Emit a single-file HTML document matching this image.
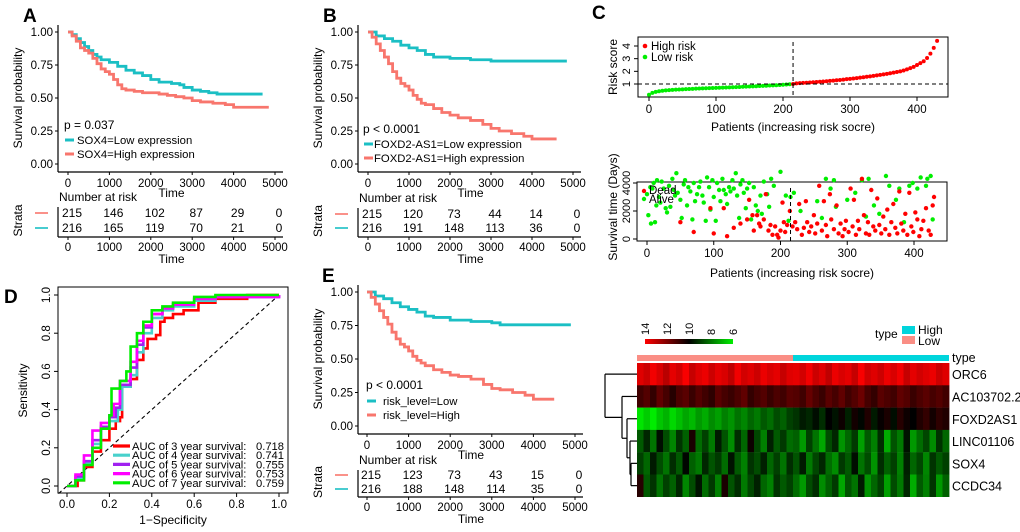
<!DOCTYPE html>
<html><head><meta charset="utf-8">
<style>
html,body{margin:0;padding:0;background:#fff;}
svg{display:block;font-family:"Liberation Sans",Arial,sans-serif;}
</style></head>
<body>
<svg id="fig" width="1020" height="532" viewBox="0 0 1020 532" xmlns="http://www.w3.org/2000/svg">
<g id="root"></g>
</svg>
<script>
// ---------- DATA ----------
const kmTicks = [0,1000,2000,3000,4000,5000];
const kmYTicks = [0,0.25,0.5,0.75,1.0];
const kmYLabels = ["0.00","0.25","0.50","0.75","1.00"];
// Panel A
const aLowT = [0,100,200,300,400,500,600,700,800,1000,1200,1400,1600,1800,2000,2200,2500,2700,2800,3000,3200,3400,3600,4000,4700];
const aLowS = [1,0.98,0.95,0.92,0.89,0.86,0.83,0.81,0.79,0.77,0.74,0.71,0.69,0.67,0.64,0.62,0.61,0.6,0.58,0.56,0.55,0.54,0.53,0.53,0.53];
const aHighT = [0,100,200,300,400,500,600,700,800,900,1000,1100,1200,1300,1400,1600,1800,2000,2200,2400,2600,2800,3000,3200,3500,3800,4000,4200,4850];
const aHighS = [1,0.97,0.93,0.88,0.86,0.84,0.80,0.76,0.72,0.70,0.68,0.64,0.60,0.57,0.56,0.55,0.54,0.54,0.53,0.52,0.51,0.50,0.48,0.47,0.46,0.45,0.43,0.43,0.43];
const aRiskHigh = [215,146,102,87,29,0];
const aRiskLow = [216,165,119,70,21,0];
// Panel B
const bLowT = [0,200,400,600,800,1000,1200,1400,1600,2000,2500,3000,3200,4850];
const bLowS = [1,0.97,0.95,0.93,0.9,0.88,0.86,0.83,0.81,0.8,0.79,0.78,0.78,0.78];
const bHighT = [0,100,200,300,400,500,600,700,800,900,1000,1100,1200,1300,1400,1600,1800,2000,2200,2500,2800,3000,3200,3500,3800,4000,4600];
const bHighS = [1,0.96,0.91,0.86,0.81,0.76,0.70,0.65,0.61,0.59,0.56,0.52,0.49,0.46,0.45,0.42,0.39,0.37,0.35,0.33,0.30,0.27,0.25,0.23,0.21,0.19,0.19];
const bRiskHigh = [215,120,73,44,14,0];
const bRiskLow = [216,191,148,113,36,0];
// Panel E
const eLowT = [0,200,400,600,800,1000,1200,1400,1600,2000,2500,3000,3200,4900];
const eLowS = [1,0.97,0.95,0.92,0.89,0.87,0.85,0.82,0.81,0.79,0.78,0.77,0.755,0.755];
const eHighT = [0,100,200,300,400,500,600,700,800,900,1000,1100,1200,1300,1400,1600,1800,2000,2200,2500,2800,3000,3200,3500,3800,4000,4500];
const eHighS = [1,0.96,0.91,0.86,0.81,0.76,0.70,0.65,0.61,0.59,0.56,0.52,0.49,0.47,0.45,0.42,0.40,0.38,0.37,0.35,0.31,0.28,0.27,0.25,0.23,0.2,0.2];
const eRiskHigh = [215,123,73,43,15,0];
const eRiskLow = [216,188,148,114,35,0];
// Panel D ROC
const rocTicks = [0,0.2,0.4,0.6,0.8,1.0];
const roc3x = [0,0.05,0.08,0.12,0.16,0.2,0.23,0.25,0.26,0.3,0.33,0.36,0.38,0.42,0.44,0.46,0.5,0.55,0.62,0.7,0.85,1];
const roc3y = [0,0.03,0.1,0.18,0.24,0.3,0.34,0.36,0.52,0.56,0.66,0.72,0.77,0.79,0.86,0.88,0.9,0.92,0.96,0.98,1,1];
const roc4x = [0,0.04,0.08,0.12,0.16,0.2,0.24,0.26,0.3,0.33,0.36,0.4,0.45,0.5,0.6,0.7,1];
const roc4y = [0,0.04,0.12,0.22,0.3,0.34,0.4,0.52,0.58,0.7,0.8,0.88,0.92,0.94,0.97,0.99,1];
const roc5x = [0,0.04,0.08,0.12,0.16,0.2,0.23,0.25,0.3,0.33,0.36,0.4,0.45,0.5,0.6,0.7,1];
const roc5y = [0,0.05,0.13,0.24,0.31,0.36,0.41,0.53,0.62,0.74,0.83,0.9,0.93,0.95,0.98,0.99,1];
const roc6x = [0,0.04,0.08,0.12,0.16,0.2,0.22,0.25,0.3,0.33,0.36,0.4,0.45,0.5,0.6,0.7,1];
const roc6y = [0,0.06,0.16,0.29,0.33,0.37,0.43,0.55,0.65,0.76,0.84,0.9,0.93,0.95,0.98,0.99,1];
const roc7x = [0,0.04,0.08,0.12,0.16,0.2,0.21,0.25,0.28,0.3,0.33,0.36,0.4,0.45,0.5,0.6,0.7,1];
const roc7y = [0,0.03,0.11,0.2,0.3,0.37,0.51,0.55,0.6,0.73,0.8,0.86,0.92,0.94,0.96,0.99,1,1];
const rocLabels = ["AUC of 3 year survival:","AUC of 4 year survival:","AUC of 5 year survival:","AUC of 6 year survival:","AUC of 7 year survival:"];
const rocAUC = ["0.718","0.741","0.755","0.753","0.759"];
// Panel C risk score (every 5th patient)
const riskScores = [0.15,0.3,0.38,0.43,0.47,0.5,0.52,0.54,0.56,
0.57,0.58,0.6,0.61,0.62,0.63,0.64,0.65,0.66,0.67,0.68,0.69,
0.7,0.71,0.72,0.73,0.74,0.75,0.76,0.78,0.79,0.8,
0.81,0.82,0.84,0.85,0.86,0.88,0.89,0.9,0.92,0.94,0.96,0.98,1.0,
1.05,1.07,1.09,1.1,1.12,1.14,1.16,1.18,1.2,1.22,1.25,1.27,1.3,1.32,1.35,1.38,1.4,
1.43,1.46,1.5,1.53,1.57,1.6,1.64,1.68,1.72,1.76,
1.8,1.85,1.9,1.95,2.0,2.07,2.15,2.25,2.35,2.5,
2.65,2.8,3.05,3.4,3.85,4.4];
const riskCut = 215;
// Panel C survival status
const alivePatients = [0,2,5,6,8,10,12,14,15,18,20,22,25,28,30,33,35,38,40,42,44,46,50,52,55,57,60,62,65,68,70,72,75,78,80,83,85,88,90,93,95,98,100,103,105,108,110,113,115,118,120,123,125,128,130,133,135,138,140,143,145,148,150,153,156,160,163,166,170,172,175,180,183,186,190,200,208,212,215,220,230,255,262,268,275,280,283,300,312,322,328,332,340,348,358,363,373,378,385,393,398,405,410,418,420,425,428];
const aliveDays = [3200,1700,3700,1100,3600,4000,1200,2400,4200,3000,2600,4100,3600,2200,1900,3800,2300,4300,3500,3100,4700,3300,2800,1500,3900,4200,2400,3700,3400,1400,4000,2700,3200,3700,4100,3100,2600,1300,4400,3700,2100,4200,3000,1300,4000,3500,2700,4300,3500,3200,2500,3700,3400,4200,3600,4700,3100,1500,3900,4200,3300,2200,3600,4000,1400,3700,2400,2000,3100,1800,4100,3200,2300,4300,3800,4800,3100,1300,3000,3300,2000,2700,1500,4300,3600,4200,2300,2800,3300,4200,1600,4300,2400,1800,4500,3800,2800,3600,1200,3800,4000,3600,4400,3800,4300,4500,1400];
const deadPatients = [50,70,95,100,115,120,130,140,150,153,158,160,165,168,170,175,178,182,185,188,192,195,197,200,203,205,207,210,214,218,222,225,228,232,235,238,240,243,246,250,252,255,258,262,265,268,270,274,276,280,284,287,290,293,296,298,302,305,308,310,313,316,318,322,325,328,331,333,336,339,342,345,348,351,354,357,360,363,366,369,372,375,378,381,384,387,390,393,396,399,402,405,408,411,414,418,422,425,428,430];
const deadDays = [1200,500,2200,400,2200,200,800,1100,1400,2800,1700,600,1700,1100,900,1400,3200,600,1000,300,900,300,100,600,2600,1200,500,1000,2000,900,1200,700,2500,300,800,2700,1200,500,900,1700,400,1100,3800,600,2700,1000,200,3200,1400,700,2400,400,1100,200,700,1300,500,3600,900,2800,300,1300,700,4300,1700,400,1200,300,3500,900,600,2900,1000,400,1600,700,2100,300,1200,2500,800,400,3400,1100,600,1800,300,3300,900,500,1900,1400,200,700,1300,2200,600,300,2400,3000];
// Heatmap (48 column groups, first 24 = Low, last 24 = High)
const genes = ["ORC6","AC103702.2","FOXD2AS1","LINC01106","SOX4","CCDC34"];
const hmORC6 = [13.5,13.2,13.8,13.4,12.9,13.6,13.3,13.9,13.1,13.5,13.7,13.2,13.6,13.4,13.0,13.8,13.3,13.5,13.2,13.7,13.4,13.6,13.1,13.5,13.6,13.3,13.8,13.2,13.5,13.0,13.7,13.4,13.6,13.1,13.9,13.3,13.5,13.2,13.7,13.4,13.8,13.1,13.6,13.3,13.5,13.7,13.2,13.5];
const hmAC = [11.0,11.3,10.8,11.5,11.1,10.6,11.2,11.4,10.9,11.3,11.0,10.7,11.4,11.1,10.9,11.2,11.5,10.8,11.1,11.3,10.9,11.2,11.0,11.4,11.3,11.0,11.6,11.2,10.9,11.4,11.1,11.5,11.0,11.3,11.7,11.1,10.8,11.4,11.2,11.0,11.5,11.3,10.9,11.2,11.4,11.1,11.3,11.0];
const hmFOX = [6.4,6.8,6.3,6.9,7.2,6.6,7.0,7.4,7.1,7.6,7.3,7.8,7.5,8.0,7.7,8.2,7.9,8.4,8.1,8.6,8.3,8.8,8.5,9.0,9.2,9.6,9.4,9.8,9.3,10.0,9.7,10.2,9.5,10.3,9.9,10.5,9.6,10.1,10.4,9.8,10.6,10.2,10.0,10.5,10.8,10.3,10.7,10.5];
const hmLINC = [8.6,9.4,8.2,9.8,8.8,7.9,9.2,8.5,10.4,8.3,9.0,8.1,9.6,8.7,7.8,9.3,8.4,10.2,8.9,8.0,9.5,8.6,9.1,8.3,8.5,7.6,9.0,8.2,7.4,8.8,9.4,7.7,8.4,9.1,7.5,8.6,8.0,9.3,7.3,8.7,8.1,9.7,7.6,8.3,8.9,7.8,9.2,8.4];
const hmSOX4 = [9.0,8.4,9.6,8.8,8.2,9.3,8.6,9.9,8.5,8.1,9.4,8.7,9.1,8.3,9.7,8.6,8.0,9.2,8.8,9.5,8.4,9.0,8.2,9.3,8.7,9.6,8.1,8.9,9.4,8.3,7.8,9.1,8.6,9.8,8.2,8.8,7.7,9.3,8.5,9.0,8.0,9.5,8.4,8.9,7.9,9.2,8.6,9.0];
const hmCCDC = [10.6,8.6,9.2,8.2,9.0,8.5,9.4,7.9,8.8,9.7,8.3,9.1,8.0,10.4,8.7,9.3,8.1,8.9,9.5,8.4,8.0,9.2,8.6,9.0,8.3,7.6,8.8,9.3,7.8,8.5,9.1,7.4,8.7,8.2,9.6,7.7,8.4,9.0,7.5,8.8,8.1,9.4,7.3,8.6,8.0,9.2,7.6,8.5];
const cbTicks = [14,12,10,8,6];

// ---------- HELPERS ----------
const NS = "http://www.w3.org/2000/svg";
const root = document.getElementById('root');
function el(tag, attrs, parent, text){
  const e = document.createElementNS(NS, tag);
  for (const k in attrs) e.setAttribute(k, attrs[k]);
  if (text !== undefined) e.textContent = text;
  (parent||root).appendChild(e);
  return e;
}
function grp(name, parent){
  const g = el('g', {}, parent);
  
  
  return g;
}
function txt(parent, x, y, s, size, anchor, extra){
  const a = {x:x, y:y, 'font-size':size, 'text-anchor':anchor||'start', fill:'#000'};
  if (extra) for (const k in extra) a[k] = extra[k];
  return el('text', a, parent, s);
}
const CYAN = '#1bbfc4', SALMON = '#f8766d';

// ---------- KM PANEL ----------
function kmPanel(cfg){
  const g = grp(cfg.name);
  const sx = t => cfg.x0 + (t/5000)*(cfg.x5 - cfg.x0);
  const sy = p => cfg.y0 + (1-p)*(cfg.yb - cfg.y0);
  const lab = txt(g, cfg.x0-45, cfg.y0-10, cfg.letter, 19, 'start', {'font-weight':'bold'});
  
  
  el('line',{x1:cfg.ax,y1:cfg.y0-7,x2:cfg.ax,y2:cfg.xaxY,stroke:'#000','stroke-width':1.2},g);
  el('line',{x1:cfg.ax,y1:cfg.xaxY,x2:cfg.x5+8,y2:cfg.xaxY,stroke:'#000','stroke-width':1.2},g);
  kmYTicks.forEach((v,i)=>{
    el('line',{x1:cfg.ax-3,y1:sy(v),x2:cfg.ax,y2:sy(v),stroke:'#000'},g);
    txt(g, cfg.ax-5, sy(v)+4, kmYLabels[i], 11.5, 'end');
  });
  kmTicks.forEach(t=>{
    el('line',{x1:sx(t),y1:cfg.xaxY,x2:sx(t),y2:cfg.xaxY+3,stroke:'#000'},g);
    txt(g, sx(t), cfg.xaxY+15, String(t), 11.5, 'middle');
  });
  txt(g, (cfg.x0+cfg.x5)/2, cfg.xaxY+25, 'Time', 12, 'middle');
  const yl = txt(g, 0, 0, 'Survival probability', 12, 'middle', {transform:`translate(${cfg.ax-36},${(cfg.y0+cfg.yb)/2}) rotate(-90)`});
  
  
  [[cfg.lowT,cfg.lowS,CYAN,'low-curve'],[cfg.highT,cfg.highS,SALMON,'high-curve']].forEach(c=>{
    let d = `M${sx(c[0][0])},${sy(c[1][0])}`;
    for (let i=1;i<c[0].length;i++) d += ` H${sx(c[0][i])} V${sy(c[1][i])}`;
    const p = el('path',{d:d,fill:'none',stroke:c[2],'stroke-width':2.8},g);
    
    
  });
  txt(g, cfg.legX, cfg.pY, cfg.pText, 12);
  [[cfg.lowLab,CYAN,cfg.lgY1],[cfg.highLab,SALMON,cfg.lgY2]].forEach(l=>{
    const lg = grp('legend-entry', g);
    el('line',{x1:cfg.legX+1,y1:l[2]-4,x2:cfg.legX+10,y2:l[2]-4,stroke:l[1],'stroke-width':3},lg);
    txt(lg, cfg.legTX, l[2], l[0], 11.3);
  });
  const rt = grp('risk-table', g);
  txt(rt, cfg.ax+1, cfg.nrY, 'Number at risk', 12);
  el('line',{x1:cfg.ax,y1:cfg.nrY+6,x2:cfg.ax,y2:cfg.rtAx,stroke:'#000','stroke-width':1.2},rt);
  el('line',{x1:cfg.ax,y1:cfg.rtAx,x2:cfg.x5+8,y2:cfg.rtAx,stroke:'#000','stroke-width':1.2},rt);
  [[cfg.riskHigh,cfg.r1,SALMON],[cfg.riskLow,cfg.r2,CYAN]].forEach(r=>{
    r[0].forEach((n,i)=> txt(rt, sx(kmTicks[i])+4, r[1], String(n), 12, 'middle'));
    el('line',{x1:cfg.ax-23,y1:r[1]-4,x2:cfg.ax-10,y2:r[1]-4,stroke:r[2],'stroke-width':1.6},rt);
  });
  kmTicks.forEach(t=>{
    el('line',{x1:sx(t),y1:cfg.rtAx,x2:sx(t),y2:cfg.rtAx+3,stroke:'#000'},rt);
    txt(rt, sx(t), cfg.rtAx+14, String(t), 11.5, 'middle');
  });
  txt(rt, (cfg.x0+cfg.x5)/2, cfg.rtAx+26, 'Time', 12, 'middle');
  txt(rt, 0, 0, 'Strata', 12, 'middle', {transform:`translate(${cfg.ax-36},${(cfg.r1+cfg.r2)/2-4}) rotate(-90)`});
}

kmPanel({name:'panel-a-km',letter:'A',ax:58,x0:68,x5:275,y0:32,yb:164,xaxY:172,
  lowT:aLowT,lowS:aLowS,highT:aHighT,highS:aHighS,pText:'p = 0.037',legX:64,legTX:77,pY:129,lgY1:144,lgY2:158,
  lowLab:'SOX4=Low expression',highLab:'SOX4=High expression',nrY:201,r1:217,r2:232,rtAx:237,
  riskHigh:aRiskHigh,riskLow:aRiskLow});
kmPanel({name:'panel-b-km',letter:'B',ax:358,x0:368,x5:573,y0:32,yb:164,xaxY:172,
  lowT:bLowT,lowS:bLowS,highT:bHighT,highS:bHighS,pText:'p < 0.0001',legX:363,legTX:374,pY:133,lgY1:148,lgY2:162,
  lowLab:'FOXD2-AS1=Low expression',highLab:'FOXD2-AS1=High expression',nrY:202,r1:218,r2:232,rtAx:237,
  riskHigh:bRiskHigh,riskLow:bRiskLow});
kmPanel({name:'panel-e-km',letter:'E',ax:358,x0:367,x5:575,y0:292,yb:426,xaxY:434,
  lowT:eLowT,lowS:eLowS,highT:eHighT,highS:eHighS,pText:'p < 0.0001',legX:366,legTX:383,pY:389,lgY1:405,lgY2:419,
  lowLab:'risk_level=Low',highLab:'risk_level=High',nrY:464,r1:479,r2:493,rtAx:497,
  riskHigh:eRiskHigh,riskLow:eRiskLow});

// ---------- ROC PANEL D ----------
(function(){
  const g = grp('panel-d-roc');
  const sx = v => 67 + v*(279-67);
  const sy = v => 486 - v*(486-295);
  const L = txt(g, 4, 303, 'D', 19, 'start', {'font-weight':'bold'});
  
  
  el('rect',{x:58,y:287,width:230,height:206,fill:'none',stroke:'#000','stroke-width':1},g);
  rocTicks.forEach(v=>{
    el('line',{x1:sx(v),y1:493,x2:sx(v),y2:497,stroke:'#000'},g);
    txt(g, sx(v), 508, v.toFixed(1), 11.5, 'middle');
    el('line',{x1:54,y1:sy(v),x2:58,y2:sy(v),stroke:'#000'},g);
    txt(g, 0, 0, v.toFixed(1), 11.5, 'middle', {transform:`translate(50,${sy(v)}) rotate(-90)`});
  });
  txt(g, 173, 524, '1\u2212Specificity', 12, 'middle');
  txt(g, 0, 0, 'Sensitivity', 12, 'middle', {transform:`translate(27,${(295+486)/2}) rotate(-90)`});
  el('line',{x1:sx(-0.04),y1:sy(-0.04),x2:sx(1),y2:sy(1),stroke:'#000','stroke-dasharray':'4,3','stroke-width':1.1},g);
  const series = [[roc3x,roc3y,'#ff0000'],[roc4x,roc4y,'#48d1cc'],[roc5x,roc5y,'#a020f0'],[roc6x,roc6y,'#ff00ff'],[roc7x,roc7y,'#00ee00']];
  series.forEach((s,k)=>{
    let d='';
    for (let i=0;i<s[0].length;i++){
      d += (i? ' H'+sx(s[0][i])+' V'+sy(s[1][i]) : 'M'+sx(s[0][i])+','+sy(s[1][i]));
    }
    const p = el('path',{d:d,fill:'none',stroke:s[2],'stroke-width':2.6},g);
    
    
  });
  const lg = grp('roc-legend', g);
  series.forEach((s,k)=>{
    const y = 450 + k*9.2;
    el('line',{x1:113,y1:y-4,x2:130,y2:y-4,stroke:s[2],'stroke-width':3.2},lg);
    txt(lg, 132, y, rocLabels[k], 11.2);
    txt(lg, 284, y, rocAUC[k], 11.2, 'end');
  });
})();

// ---------- PANEL C ----------
(function(){
  const g = grp('panel-c-risk');
  const L = txt(g, 592, 19, 'C', 19, 'start', {'font-weight':'bold'});
  
  
  const sx = p => 649 + p*(917-649)/400;
  const sy = v => 84 - (v-1)*(84-46)/3;
  el('rect',{x:638,y:37,width:310,height:60,fill:'none',stroke:'#000'},g);
  [1,2,3,4].forEach(v=>{
    el('line',{x1:634,y1:sy(v),x2:638,y2:sy(v),stroke:'#000'},g);
    txt(g,0,0,String(v),11,'middle',{transform:`translate(630,${sy(v)}) rotate(-90)`});
  });
  txt(g,0,0,'Risk score',12,'middle',{transform:`translate(617,67) rotate(-90)`});
  [0,100,200,300,400].forEach(v=>{
    el('line',{x1:sx(v),y1:97,x2:sx(v),y2:101,stroke:'#000'},g);
    txt(g,sx(v),113,String(v),11.5,'middle');
  });
  txt(g,793,131,'Patients (increasing risk socre)',12,'middle');
  riskScores.forEach((v,i)=>{
    const p=i*5;
    const c=el('circle',{cx:sx(p),cy:sy(v),r:2,fill:p<riskCut?'#00ee00':'#ff0000'},g);
    
    
  });
  el('line',{x1:sx(riskCut),y1:42,x2:sx(riskCut),y2:97,stroke:'#000','stroke-dasharray':'4,3'},g);
  el('line',{x1:638,y1:sy(1),x2:948,y2:sy(1),stroke:'#000','stroke-dasharray':'4,3'},g);
  el('circle',{cx:645,cy:46,r:2.3,fill:'#ff0000'},g); txt(g,651,50,'High risk',11.5);
  el('circle',{cx:645,cy:57,r:2.3,fill:'#00ee00'},g); txt(g,651,61,'Low risk',11.5);
  const g2 = grp('panel-c-survival');
  const bx = p => 647 + p*(914-647)/400;
  const by = d => 239 - d*(239-183)/4000;
  el('rect',{x:637,y:182,width:310,height:59,fill:'none',stroke:'#000'},g2);
  [0,2000,4000].forEach(v=>{
    el('line',{x1:633,y1:by(v),x2:637,y2:by(v),stroke:'#000'},g2);
    txt(g2,0,0,String(v),11,'middle',{transform:`translate(630,${by(v)}) rotate(-90)`});
  });
  txt(g2,0,0,'Survival time (Days)',12,'middle',{transform:`translate(617,207) rotate(-90)`});
  [0,100,200,300,400].forEach(v=>{
    el('line',{x1:bx(v),y1:241,x2:bx(v),y2:245,stroke:'#000'},g2);
    txt(g2,bx(v),257,String(v),11.5,'middle');
  });
  txt(g2,792,277,'Patients (increasing risk socre)',12,'middle');
  alivePatients.forEach((p,i)=>{
    const c=el('circle',{cx:bx(p),cy:by(aliveDays[i]),r:2.2,fill:'#00ee00'},g2);
    
    
  });
  deadPatients.forEach((p,i)=>{
    const c=el('circle',{cx:bx(p),cy:by(deadDays[i]),r:2.2,fill:'#ff0000'},g2);
    
    
  });
  el('line',{x1:bx(riskCut),y1:188,x2:bx(riskCut),y2:241,stroke:'#000','stroke-dasharray':'4,3'},g2);
  el('circle',{cx:644,cy:191,r:2.2,fill:'#ff0000'},g2); txt(g2,649,194,'Dead',11.5);
  el('circle',{cx:644,cy:199,r:2.2,fill:'#00ee00'},g2); txt(g2,649,203,'Alive',11.5);
})();

// ---------- HEATMAP ----------
(function(){
  const g = grp('heatmap');
  const rows = [hmORC6,hmAC,hmFOX,hmLINC,hmSOX4,hmCCDC];
  const x0=637, x1=949, y0=363, rh=22.3;
  function col(v){
    if (v>=10){ const t=Math.min(1,(v-10)/4); return `rgb(${Math.round(255*t)},0,0)`; }
    const t=Math.min(1,(10-v)/4); return `rgb(0,${Math.round(255*t)},0)`;
  }
  rows.forEach((r,ri)=>{
    const cw=(x1-x0)/r.length;
    r.forEach((v,ci)=>{
      const c=el('rect',{x:x0+ci*cw,y:y0+ri*rh,width:cw+0.4,height:rh+0.2,fill:col(v)},g);
      
      
    });
    txt(g,952,y0+ri*rh+rh/2+5,genes[ri],12.5);
  });
  el('rect',{x:x0,y:355,width:793-x0,height:6,fill:'#fa8e85'},g);
  el('rect',{x:793,y:355,width:x1-793,height:6,fill:'#00d5dc'},g);
  txt(g,952,362,'type',12.5);
  const gl = grp('heatmap-legend', g);
  const grad = el('linearGradient',{id:'cbg',x1:0,x2:1,y1:0,y2:0},el('defs',{},gl));
  el('stop',{offset:'0','stop-color':'#ff0000'},grad);
  el('stop',{offset:'0.5','stop-color':'#000000'},grad);
  el('stop',{offset:'1','stop-color':'#00ee00'},grad);
  el('rect',{x:645,y:339,width:88,height:5,fill:'url(#cbg)'},gl);
  cbTicks.forEach(v=>{
    const x = 645 + (14-v)/8*88;
    txt(gl,0,0,String(v),11,'start',{transform:`translate(${x+4},335) rotate(-90)`});
  });
  txt(gl,875,338,'type',12);
  el('rect',{x:902,y:326,width:13,height:8,fill:'#00d5dc'},gl);
  el('rect',{x:902,y:336,width:13,height:8,fill:'#fa8e85'},gl);
  txt(gl,918,334,'High',12); txt(gl,918,345,'Low',12);
  const gd = grp('dendrogram', g);
  const yc = i => y0 + rh*(i+0.5);
  const L = (a,b,c,d)=>el('line',{x1:a,y1:b,x2:c,y2:d,stroke:'#000','stroke-width':1.2},gd);
  const n5 = (yc(4)+yc(5))/2; L(631,yc(4),637,yc(4)); L(631,yc(5),637,yc(5)); L(631,yc(4),631,yc(5));
  const n4 = (yc(3)+n5)/2; L(630,yc(3),637,yc(3)); L(630,n5,631,n5); L(630,yc(3),630,n5);
  const n3 = (yc(2)+n4)/2; L(627,yc(2),637,yc(2)); L(627,n4,630,n4); L(627,yc(2),627,n4);
  const n2 = (yc(1)+n3)/2; L(622,yc(1),637,yc(1)); L(622,n3,627,n3); L(622,yc(1),622,n3);
  L(605,yc(0),637,yc(0)); L(605,n2,622,n2); L(605,yc(0),605,n2);
})();
</script>
</body></html>
